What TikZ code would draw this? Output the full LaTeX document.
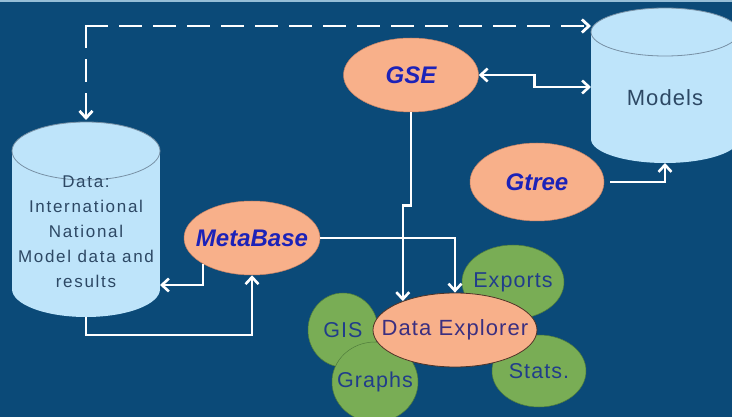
\documentclass[tikz,border=0pt]{standalone}
\usepackage{fontspec}
\setmainfont{Liberation Sans}
\newfontfamily\trk[LetterSpace=10]{Liberation Sans}
\newfontfamily\trks[LetterSpace=5]{Liberation Sans}
\usetikzlibrary{shapes.geometric,arrows.meta}
\definecolor{bgblue}{RGB}{11,74,120}
\definecolor{strip}{RGB}{150,190,215}
\definecolor{cylfill}{RGB}{190,228,250}
\definecolor{cylline}{RGB}{120,145,165}
\definecolor{orng}{RGB}{248,176,138}
\definecolor{orngline}{RGB}{200,130,100}
\definecolor{grn}{RGB}{121,173,85}
\definecolor{grnline}{RGB}{80,125,60}
\definecolor{lblblue}{RGB}{28,34,184}
\definecolor{cyltext}{RGB}{45,72,100}
\definecolor{grntext}{RGB}{33,61,138}
\definecolor{detext}{RGB}{59,47,128}
\tikzset{
  anchorbox/.style={inner sep=0pt, outer sep=0pt, minimum width=148pt},
  cyltxt/.style={text=cyltext, align=center},
  oval/.style={ellipse, fill=orng, draw=orngline, line width=0.5pt, inner sep=0pt},
  ovallbl/.style={text=lblblue, inner sep=0pt, font=\fontsize{24}{28}\selectfont\bfseries\itshape},
  greenball/.style={ellipse, fill=grn, draw=grnline, line width=0.5pt, inner sep=0pt},
  greenlbl/.style={text=grntext, inner sep=0pt, font=\fontsize{21.5}{25}\selectfont\trks},
  deoval/.style={ellipse, fill=orng, draw=black!60!orngline, line width=0.8pt, inner sep=0pt},
  delbl/.style={text=detext, inner sep=0pt, font=\fontsize{22}{26}\selectfont\trks},
  arr/.style={draw=white, line width=2.6pt, ->},
  dsh/.style={draw=white, line width=2.8pt, line cap=rect, dash pattern=on 21pt off 13pt, ->},
}
\begin{document}
\begin{tikzpicture}[x=1pt, y=-1pt, >={Straight Barb[length=7pt,width=13pt]}]
\useasboundingbox (0,0) rectangle (732,417);
\clip (0,0) rectangle (732,417);
\fill[bgblue] (0,0) rectangle (732,417);
\fill[strip] (0,0) rectangle (732,2.5);

% Data cylinder
\fill[cylfill] (86,289) ellipse [x radius=74, y radius=28];
\fill[cylfill] (12,151) rectangle (160,289);
\filldraw[fill=cylfill, draw=cylline, line width=0.8pt] (86,151) ellipse [x radius=74, y radius=29];
\node[anchorbox, minimum height=197pt] (data) at (86,218.5) {};
\node[cyltxt, font=\fontsize{17}{25}\selectfont\trk] (datatxt) at (86,232)
  {Data:\\International\\National\\Model data and\\results};

% Models cylinder
\fill[cylfill] (665,139) ellipse [x radius=74, y radius=24];
\fill[cylfill] (591,32) rectangle (739,139);
\filldraw[fill=cylfill, draw=cylline, line width=0.8pt] (665,32) ellipse [x radius=74, y radius=24];
\node[anchorbox, minimum height=155pt] (models) at (665,85.5) {};
\node[cyltxt, font=\fontsize{22}{26}\selectfont\trks] (modtxt) at (665,98) {Models};

% orange ellipses
\node[oval, minimum width=135pt, minimum height=74pt, label={[ovallbl]center:GSE}] (gse) at (411,75) {};
\node[oval, minimum width=134pt, minimum height=78pt, label={[ovallbl]center:Gtree}] (gt) at (537,182) {};
\node[oval, minimum width=136pt, minimum height=74pt, label={[ovallbl]center:MetaBase}] (mb) at (252,238) {};

% green balls
\node[greenball, minimum width=70pt, minimum height=74pt, label={[greenlbl]center:GIS}] (gis) at (343,330) {};
\node[greenball, minimum width=86pt, minimum height=80pt, label={[greenlbl]center:Graphs}] (graphs) at (375,382) {};
\node[greenball, minimum width=102pt, minimum height=74pt, label={[greenlbl]center:Exports}] (exports) at (513,282) {};
\node[greenball, minimum width=94pt, minimum height=72pt, label={[greenlbl]center:Stats.}] (stats) at (539,371) {};
\node[deoval, minimum width=164pt, minimum height=74pt, label={[delbl]center:Data Explorer}] (de) at (455,330) {};

% connectors
\coordinate (dc) at (data.north |- 0,26);
\draw[dsh] (dc) -- (data.north);
\draw[dsh] (dc) -- (models.west |- dc);
\draw[arr, <->] (gse.east) -- ++(56,0) |- (models.west |- 0,87);
\draw[arr] (gse.south) -- ++(0,93) -| (de.151);
\draw[arr] (mb.east) -| (de.north);
\draw[arr] (mb.208) |- (data.east |- 0,285);
\draw[arr] (data.south) -- ++(0,18) -| (mb.south);
\draw[arr] ([xshift=6pt]gt.east) -| (models.south);
\end{tikzpicture}
\end{document}
